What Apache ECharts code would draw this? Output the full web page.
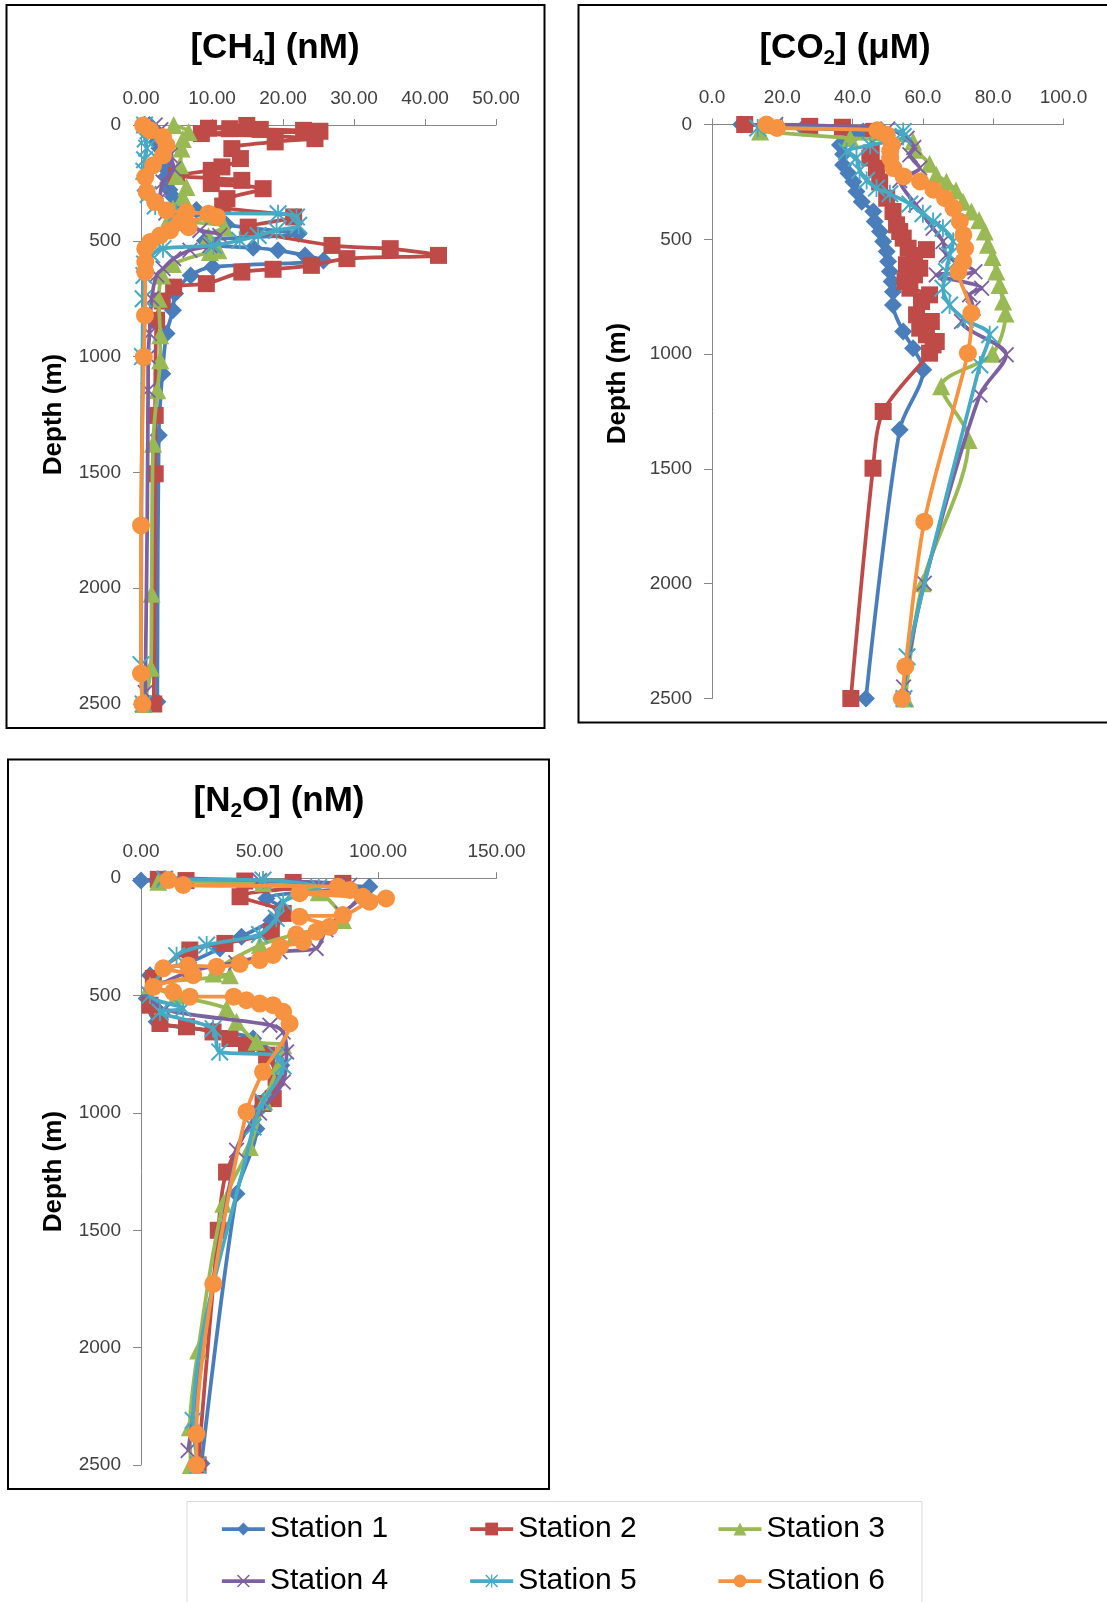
<!DOCTYPE html>
<html><head><meta charset="utf-8">
<script src="https://cdn.jsdelivr.net/npm/echarts/dist/echarts.min.js"></script>
<style>html,body{margin:0;padding:0;background:#fff}#c{width:1107px;height:1602px}</style>
</head><body><div id="c"></div>
<script>
const stations = ['Station 1','Station 2','Station 3','Station 4','Station 5','Station 6'];

// [CH4] (nM) : [value, depth m]
const ch4_s1 = [[1.2,0],[1.5,20],[2.0,45],[2.3,70],[2.6,100],[3.0,130],[3.3,160],[3.5,190],[3.6,220],[3.8,250],[4.0,280],[4.5,310],[5.5,340],[7.8,367],[9.3,390],[12.0,430],[22.2,470],[9.0,500],[10.5,520],[15.8,530],[19.3,541],[23.1,563],[25.7,585],[10.1,613],[7.0,650],[4.8,728],[4.5,800],[3.6,900],[3.0,1074],[2.5,1340],[2.3,2490]];
const ch4_s2 = [[14.9,2],[9.5,14],[12.5,16],[16.8,19],[22.9,23],[25.2,27],[8.5,37],[24.5,59],[18.9,73],[12.8,102],[14.0,145],[11.4,181],[9.9,196],[5.0,218],[14.2,239],[9.9,253],[17.2,275],[12.1,318],[11.5,350],[21.5,397],[15.1,441],[26.9,520],[35.1,534],[41.9,563],[29.0,577],[24.0,606],[18.6,623],[14.2,635],[9.2,685],[4.6,700],[3.0,760],[2.2,843],[2.0,1254],[2.0,1506],[1.8,2500]];
const ch4_s3 = [[4.6,0],[6.7,30],[5.9,60],[5.7,102],[5.5,174],[5.0,220],[6.4,268],[5.9,311],[4.5,360],[4.0,400],[11.8,441],[9.5,480],[10.9,541],[9.7,548],[4.5,600],[3.0,650],[2.5,750],[2.7,908],[2.7,1016],[2.3,1145],[1.7,1376],[1.5,2024],[1.4,2343],[0.4,2500]];
const ch4_s4 = [[2.0,0],[2.8,20],[3.1,66],[3.5,100],[4.1,131],[4.6,189],[3.1,246],[2.7,318],[3.5,380],[5.5,420],[8.3,455],[11.1,477],[9.7,520],[6.9,541],[4.6,577],[3.1,620],[2.2,648],[1.5,750],[1.2,900],[1.0,1000],[1.0,1145],[0.6,2450]];
const ch4_s5 = [[0.5,0],[1.0,25],[0.6,60],[0.8,100],[0.5,150],[0.4,200],[0.6,250],[1.0,300],[2.0,350],[5.0,380],[19.3,383],[21.9,397],[22.2,433],[19.1,455],[16.5,477],[13.9,498],[10.2,520],[3.1,534],[1.5,560],[0.5,600],[0.4,650],[0.3,750],[0.2,1000],[0.0,2330],[0.3,2500]];
const ch4_s6 = [[0.3,2],[1.3,23],[3.1,52],[3.6,88],[3.1,131],[1.7,174],[0.6,225],[0.8,289],[2.0,333],[3.6,369],[6.4,376],[9.5,383],[10.7,397],[5.5,419],[6.7,441],[4.1,455],[2.7,477],[1.3,505],[0.6,534],[0.6,592],[0.6,635],[0.56,822],[0.4,1002],[0.0,1729],[0.0,2368],[0.2,2500]];

// [CO2] (uM)
const co2_s1 = [[8.3,0],[25.9,15],[43,30],[40,50],[36.4,89],[37.3,130],[37.3,176],[38.8,212],[40.2,249],[41.1,292],[42.6,336],[45.9,379],[46.3,423],[47.8,466],[48.7,510],[49.7,553],[50.1,597],[50.6,640],[51.1,684],[51.5,728],[51.5,786],[54.4,902],[57.2,974],[60.1,1068],[53.4,1329],[43.8,2500]];
const co2_s2 = [[9.3,0],[27.8,8],[37.1,12],[46,30],[45.3,124],[44.9,146],[46.8,190],[47.7,250],[49.7,321],[51.5,379],[52.5,437],[53.4,466],[54.4,495],[55.8,539],[61.0,545],[57.6,582],[55.3,611],[59.1,626],[57.6,655],[54.9,684],[56.3,713],[61.9,742],[59.6,771],[58.2,829],[62.4,858],[59.1,887],[61.0,916],[63.8,945],[62.9,960],[61.9,996],[48.7,1250],[45.8,1497],[39.5,2500]];
const co2_s3 = [[13.7,30],[39.3,59],[57.2,74],[58,110],[61.9,171],[63.8,219],[66.7,249],[69.4,287],[71.4,336],[73.8,379],[76,417],[77.6,466],[78.5,524],[79.8,577],[80.9,640],[81.8,699],[82.8,771],[83.5,823],[79.8,998],[65.2,1140],[73,1374],[59.9,1998],[55,2500]];
const co2_s4 = [[18.1,0],[50,20],[55.5,60],[57.4,100],[56.3,132],[59.1,190],[53.4,244],[58,350],[62.9,452],[65.7,510],[66.7,568],[74.8,641],[63.8,655],[76.7,713],[73.3,742],[74.3,800],[71.0,858],[83.7,1003],[76.2,1178],[60.4,1998],[54.5,2450]];
const co2_s5 = [[13,15],[54.4,30],[54.4,52],[45,90],[38.3,118],[41.1,146],[42,200],[44,244],[46.8,277],[50.6,302],[56.3,346],[60,389],[62.9,423],[65.7,452],[68.6,510],[67.6,568],[66.7,640],[65.7,713],[67.6,786],[72,850],[79,916],[76.2,1047],[55.5,2318],[54.6,2500]];
const co2_s6 = [[15.5,0],[18.5,15],[47,25],[49.7,45],[51.2,88],[50.7,116],[50.7,146],[51.6,190],[54.5,226],[59.2,248],[63,284],[66.3,321],[68.7,364],[70.5,422],[71.5,481],[72,539],[71.5,597],[70.1,641],[73.8,822],[72.8,996],[60.4,1730],[55,2361],[54,2500]];

// [N2O] (nM)
const n2o_s1 = [[0,10],[96.4,36],[52.9,86],[59,128],[55,180],[42.4,249],[33.3,299],[20,360],[3.8,413],[2.4,512],[6.6,612],[30,650],[47.3,683],[59.2,797],[54.3,925],[48.7,996],[48.7,1067],[40.3,1344],[25.5,2494]];
const n2o_s2 = [[7.3,5],[19,10],[43.8,12],[64.2,18],[85.2,22],[41.8,79],[60,150],[55,228],[35.4,278],[20.6,306],[5.2,427],[3.8,541],[8,619],[19.2,633],[30.4,655],[37.5,683],[44.5,712],[53,754],[57,850],[55.8,939],[51.5,960],[36.1,1252],[32.6,1500],[24.1,2500]];
const n2o_s3 = [[7.3,15],[51.5,20],[75,60],[85.2,178],[65,240],[50.2,285],[30.6,406],[37.5,413],[3.8,456],[15,500],[36.1,555],[40.3,612],[48.7,697],[60,712],[58,800],[52,950],[45.9,1145],[34.7,1387],[24.1,2012],[20.6,2339],[21,2500]];
const n2o_s4 = [[10,0],[50,10],[88,30],[92,80],[85,150],[78,220],[73.9,299],[58.6,313],[40,360],[20,400],[3.8,498],[10,560],[54.4,626],[60,655],[61.4,740],[60,868],[50,1000],[40.3,1159],[19.9,2438]];
const n2o_s5 = [[10,5],[51.5,8],[75,40],[60,100],[57.1,171],[50,240],[27.7,285],[15,330],[3.8,498],[17.8,555],[8,570],[30.4,641],[33.2,740],[57.1,754],[60,800],[51.5,953],[47.3,1060],[22,2310],[24,2500]];
const n2o_s6 = [[11.5,8],[17.8,29],[83.1,36],[88,50],[66.9,64],[93.6,79],[103.4,86],[96.4,100],[85.2,157],[66.9,164],[79.6,207],[74,228],[65.5,240],[68.4,271],[58.6,292],[55.7,327],[50.1,349],[41.7,365],[31.9,377],[19.9,372],[9.4,384],[22,413],[5.2,463],[13.6,484],[20.6,505],[39.1,505],[44.5,520],[50.1,534],[55.7,541],[60,569],[62.7,619],[51.5,825],[44.5,996],[30.5,1728],[23.4,2368],[23.4,2500]];

const FONT = "'Liberation Sans', Arial, sans-serif";
const X_PATH = 'path://M1.6,0 L10,8.4 L18.4,0 L20,1.6 L11.6,10 L20,18.4 L18.4,20 L10,11.6 L1.6,20 L0,18.4 L8.4,10 L0,1.6 Z';
const STAR_PATH = 'path://M1.6,0 L10,8.4 L18.4,0 L20,1.6 L11.6,10 L20,18.4 L18.4,20 L10,11.6 L1.6,20 L0,18.4 L8.4,10 L0,1.6 Z M9,0 L11,0 L11,20 L9,20 Z';
const st = [
  {color:'#4A7EBB', symbol:'diamond', size:18},
  {color:'#BE4B48', symbol:'rect', size:17},
  {color:'#98B954', symbol:'triangle', size:18},
  {color:'#7D60A0', symbol:X_PATH, size:16},
  {color:'#46AAC5', symbol:STAR_PATH, size:18},
  {color:'#F69240', symbol:'circle', size:18}
];
const panels = [
  [ch4_s1, ch4_s2, ch4_s3, ch4_s4, ch4_s5, ch4_s6],
  [co2_s1, co2_s2, co2_s3, co2_s4, co2_s5, co2_s6],
  [n2o_s1, n2o_s2, n2o_s3, n2o_s4, n2o_s5, n2o_s6]
];
const series = [];
panels.forEach((p, gi) => {
  p.forEach((d, si) => {
    series.push({
      type:'line', name: stations[si], data: d, xAxisIndex: gi, yAxisIndex: gi,
      smooth: 0.3, symbol: st[si].symbol, symbolSize: st[si].size, showSymbol: true,
      symbolKeepAspect: true, clip: false,
      lineStyle:{color: st[si].color, width: 3.75}, itemStyle:{color: st[si].color},
      emphasis:{disabled:true}, animation:false, z: 2 + si
    });
  });
});

const axisCol = '#868686';
function xAx(gi, max, interval, dec) {
  return {gridIndex: gi, type:'value', position:'top', min:0, max:max, interval:interval,
    axisLine:{show:true, onZero:false, lineStyle:{color:axisCol, width:1}},
    axisTick:{show:true, length:6, lineStyle:{color:axisCol}},
    axisLabel:{margin:17, fontSize:19, color:'#404040', fontFamily:FONT, formatter: v => v.toFixed(dec)},
    splitLine:{show:false}};
}
function yAx(gi, gap, pad) {
  return {gridIndex: gi, type:'value', inverse:true, min:0, max:2500, interval:500,
    axisLine:{show:true, onZero:false, lineStyle:{color:axisCol, width:1}},
    axisTick:{show:true, length:8, lineStyle:{color:axisCol}},
    axisLabel:{margin:20, fontSize:19, color:'#404040', fontFamily:FONT, formatter: v => String(v)},
    splitLine:{show:false},
    name:'Depth (m)', nameLocation:'middle', nameRotate:90, nameGap:gap,
    nameTextStyle:{fontSize:26, fontWeight:'bold', color:'#000', fontFamily:FONT, padding:pad}};
}
const rich = {
  a:{fontSize:35, fontWeight:'bold', lineHeight:50, color:'#000', fontFamily:FONT},
  s:{fontSize:21, fontWeight:'bold', lineHeight:21, color:'#000', fontFamily:FONT, padding:[20,0,0,0]}
};
function ttl(text, x, y) {
  return {text:text, left:x, top:y, textAlign:'center', padding:0, textStyle:{rich:rich, fontFamily:FONT}};
}
const legTxt = {fontSize:30, color:'#000', fontFamily:FONT};
function leg(names, top) {
  return {data:names, left:220, top:top, padding:0, itemWidth:43, itemHeight:16, itemGap:80,
    selectedMode:false, textStyle:legTxt, lineStyle:{width:3.75}};
}
const option = {
  backgroundColor:'#fff',
  animation:false,
  title:[
    ttl('{a|[CH}{s|4}{a|] (nM)}', 275, 23),
    ttl('{a|[CO}{s|2}{a|] (μM)}', 845, 23),
    ttl('{a|[N}{s|2}{a|O] (nM)}', 279, 776)
  ],
  grid:[
    {left:141, top:125, width:355, height:579},
    {left:712, top:124.5, width:351.5, height:574},
    {left:141, top:878.2, width:355.5, height:586.8}
  ],
  xAxis:[xAx(0,50,10,2), xAx(1,100,20,1), xAx(2,150,50,2)],
  yAxis:[yAx(0,74,[0,0,0,0]), yAx(1,81,[0,0,0,56]), yAx(2,74,[0,0,0,0])],
  legend:[leg(stations.slice(0,3), 1514), leg(stations.slice(3), 1566)],
  graphic:[
    {type:'rect', silent:true, shape:{x:6.5, y:5, width:538, height:723}, style:{fill:'none', stroke:'#000', lineWidth:2}},
    {type:'rect', silent:true, shape:{x:578.5, y:5, width:540, height:717.5}, style:{fill:'none', stroke:'#000', lineWidth:2}},
    {type:'rect', silent:true, shape:{x:8, y:759.5, width:541, height:729.5}, style:{fill:'none', stroke:'#000', lineWidth:2}},
    {type:'rect', silent:true, shape:{x:187, y:1501.5, width:735, height:120}, style:{fill:'none', stroke:'#D9D9D9', lineWidth:1}}
  ],
  series: series
};
const chart = echarts.init(document.getElementById('c'), null, {renderer:'canvas'});
chart.setOption(option);
</script>
</body></html>
